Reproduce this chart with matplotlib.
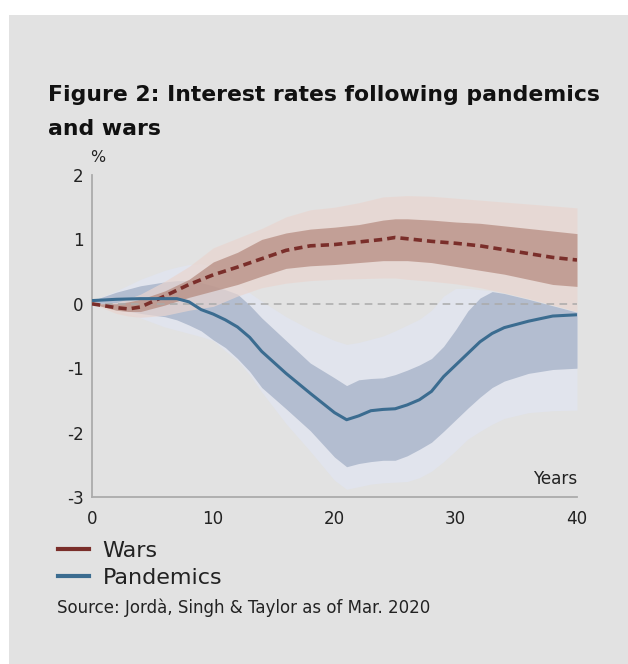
import matplotlib
matplotlib.use("Agg")
import matplotlib.pyplot as plt
from matplotlib.lines import Line2D
from matplotlib.patches import Rectangle

# ---- data ----
war_years = [0, 2, 3, 4, 6, 8, 10, 12, 14, 16, 18, 20, 22, 24, 25, 26, 28, 30, 32, 34, 36, 38, 40]
war_mid = [0, -0.06, -0.08, -0.05, 0.12, 0.30, 0.45, 0.57, 0.70, 0.83, 0.90, 0.92, 0.96, 1.00, 1.03, 1.01,
           0.97, 0.94, 0.90, 0.84, 0.78, 0.72, 0.68]
war_in_hi = [0, 0.0, 0.03, 0.07, 0.20, 0.38, 0.65, 0.80, 1.00, 1.10, 1.16, 1.19, 1.23, 1.30, 1.32, 1.32,
             1.30, 1.27, 1.25, 1.21, 1.17, 1.13, 1.09]
war_in_lo = [0, -0.10, -0.12, -0.12, -0.02, 0.10, 0.20, 0.30, 0.43, 0.55, 0.59, 0.61, 0.64, 0.67, 0.67, 0.67,
             0.64, 0.58, 0.52, 0.46, 0.38, 0.30, 0.27]
war_out_hi = [0, 0.02, 0.08, 0.15, 0.35, 0.58, 0.87, 1.02, 1.17, 1.35, 1.46, 1.50, 1.57, 1.66, 1.67, 1.68,
              1.67, 1.64, 1.61, 1.58, 1.55, 1.52, 1.49]
war_out_lo = [0, -0.15, -0.19, -0.21, -0.18, -0.10, -0.04, 0.12, 0.25, 0.32, 0.36, 0.38, 0.39, 0.40, 0.40, 0.38,
              0.35, 0.31, 0.25, 0.17, 0.08, -0.02, -0.12]

pan_years = [0, 2, 4, 6, 7, 8, 9, 10, 11, 12, 13, 14, 16, 18, 20, 21, 22, 23, 24, 25, 26, 27, 28, 29, 30,
             31, 32, 33, 34, 36, 38, 40]
pan_mid = [0.05, 0.07, 0.08, 0.08, 0.08, 0.03, -0.09, -0.16, -0.25, -0.36, -0.52, -0.74, -1.08, -1.39, -1.69,
           -1.80, -1.74, -1.66, -1.64, -1.63, -1.57, -1.49, -1.36, -1.13, -0.95, -0.77, -0.59, -0.46, -0.37,
           -0.27, -0.19, -0.17]
pan_in_hi = [0.05, 0.18, 0.28, 0.34, 0.36, 0.36, 0.33, 0.28, 0.22, 0.15, -0.02, -0.22, -0.57, -0.92, -1.15,
             -1.27, -1.18, -1.16, -1.15, -1.10, -1.03, -0.95, -0.85, -0.66, -0.40, -0.11, 0.09, 0.19, 0.16,
             0.07, -0.03, -0.13]
pan_in_lo = [0.05, -0.08, -0.15, -0.20, -0.25, -0.33, -0.42, -0.56, -0.68, -0.85, -1.05, -1.30, -1.63, -1.97,
             -2.38, -2.53, -2.48, -2.45, -2.43, -2.43, -2.36, -2.26, -2.15, -1.98, -1.80, -1.62, -1.45, -1.30,
             -1.20, -1.08, -1.02, -1.00]
pan_out_hi = [0.05, 0.20, 0.38, 0.52, 0.57, 0.61, 0.62, 0.58, 0.47, 0.32, 0.17, 0.04, -0.20, -0.40, -0.57,
              -0.63, -0.60, -0.55, -0.50, -0.42, -0.33, -0.24, -0.10, 0.12, 0.24, 0.24, 0.22, 0.20, 0.16,
              0.07, -0.03, -0.13]
pan_out_lo = [0.05, -0.10, -0.22, -0.36, -0.41, -0.46, -0.51, -0.57, -0.73, -0.88, -1.10, -1.37, -1.86, -2.29,
              -2.74, -2.88, -2.84, -2.80, -2.78, -2.77, -2.76, -2.70, -2.60, -2.45, -2.28, -2.10, -1.98, -1.87,
              -1.78, -1.69, -1.66, -1.65]

y_ticks = [-3, -2, -1, 0, 1, 2]
x_ticks = [0, 10, 20, 30, 40]
series_labels = ["Wars", "Pandemics"]

# ---- style ----
FONT = "DejaVu Sans"
BG = "#e2e2e2"
TXT = "#222222"
WAR_LINE = "#7a2e2a"
PAN_LINE = "#3b6c90"
W, H = 628, 664

fig = plt.figure(figsize=(W / 100, H / 100), dpi=100)
fig.patch.set_facecolor("white")
fig.add_artist(Rectangle((9 / W, 0), 1 - 9 / W, 1 - 15 / H, transform=fig.transFigure,
                         facecolor=BG, edgecolor="none", zorder=-10))
renderer = fig.canvas.get_renderer()


def fit_width(txt, target_px):
    """scale font size so that the rendered text has the target width"""
    for _ in range(3):
        w = txt.get_window_extent(renderer).width
        txt.set_fontsize(txt.get_fontsize() * target_px / w)
    return txt.get_fontsize()


ax = fig.add_axes([92 / W, 1 - 497 / H, (577 - 92) / W, (497 - 175) / H])
ax.set_facecolor(BG)
ax.patch.set_alpha(0)

# pandemics bands
ax.fill_between(pan_years, pan_out_lo, pan_out_hi, color="#e1e4ed", lw=0, zorder=1)
ax.fill_between(pan_years, pan_in_lo, pan_in_hi, color="#b3bdd0", lw=0, zorder=2)
# wars bands (translucent)
ax.fill_between(war_years, war_out_lo, war_out_hi, color="#e9d5cf", alpha=0.7, lw=0, zorder=3)
ax.fill_between(war_years, war_in_lo, war_in_hi, color="#b4887c", alpha=0.7, lw=0, zorder=4)

ax.axhline(0, color="#aaaaaa", lw=1.1, dashes=(5, 3.5), zorder=5)

ax.plot(war_years, war_mid, color=WAR_LINE, lw=2.6, dashes=(2.3, 1.4), zorder=6)
ax.plot(pan_years, pan_mid, color=PAN_LINE, lw=2.2, zorder=7, solid_capstyle="butt")

ax.set_xlim(0, 40)
ax.set_ylim(-3, 2)
ax.set_xticks(x_ticks)
ax.set_yticks(y_ticks)
ax.set_xticklabels([str(v) for v in x_ticks])
ax.set_yticklabels([str(v) for v in y_ticks])
for s in ["top", "right"]:
    ax.spines[s].set_visible(False)
for s in ["left", "bottom"]:
    ax.spines[s].set_color("#ababab")
    ax.spines[s].set_linewidth(1.3)

years_txt = ax.text(40, -2.8, "Years", ha="right", va="baseline", fontsize=11, family=FONT, color=TXT)
small = fit_width(years_txt, 44)

ax.tick_params(axis="both", length=0, labelsize=small, labelcolor=TXT)
ax.tick_params(axis="x", pad=9.5)
ax.tick_params(axis="y", pad=6)
for lab in ax.get_xticklabels() + ax.get_yticklabels():
    lab.set_fontfamily(FONT)

fig.text(98 / W, 1 - 157 / H, "%", ha="center", va="center", fontsize=small * 0.95, family=FONT, color=TXT)

t1 = fig.text(48 / W, 1 - 101 / H, "Figure 2: Interest rates following pandemics", ha="left", va="baseline",
              fontsize=16, fontweight="bold", family=FONT, color="#111111")
tsize = fit_width(t1, 550)
fig.text(48 / W, 1 - 135 / H, "and wars", ha="left", va="baseline",
         fontsize=tsize, fontweight="bold", family=FONT, color="#111111")

src = fig.text(57 / W, 1 - 613 / H, "Source: Jordà, Singh & Taylor as of Mar. 2020", ha="left",
               va="baseline", fontsize=10.6, family=FONT, color=TXT)
fit_width(src, 375)

probe = fig.text(0, 0, "Pandemics", fontsize=15, family=FONT)
lsize = fit_width(probe, 120)
probe.remove()

handles = [Line2D([0], [0], color=WAR_LINE, lw=3), Line2D([0], [0], color=PAN_LINE, lw=3)]
leg = fig.legend(handles, series_labels, loc="upper left", bbox_to_anchor=(58 / W, 1 - 541 / H),
                 frameon=False, borderpad=0, borderaxespad=0, handlelength=1.4, handletextpad=0.6,
                 labelspacing=0.3, prop={"family": FONT, "size": lsize})
for t in leg.get_texts():
    t.set_color(TXT)

fig.savefig("out.png", dpi=100, facecolor="white")
